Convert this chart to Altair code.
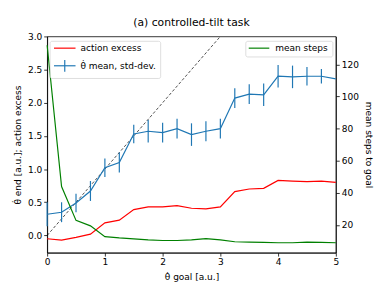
import altair as alt
import pandas as pd

goal = [0.0, 0.25, 0.5, 0.75, 1.0, 1.25, 1.5, 1.75, 2.0, 2.25, 2.5,
        2.75, 3.0, 3.25, 3.5, 3.75, 4.0, 4.25, 4.5, 4.75, 5.0]
theta_mean = [0.32, 0.35, 0.49, 0.67, 1.02, 1.10, 1.53, 1.57, 1.55, 1.61, 1.52,
              1.57, 1.61, 2.07, 2.13, 2.12, 2.40, 2.39, 2.40, 2.40, 2.36]
theta_std = [0.18, 0.15, 0.14, 0.15, 0.14, 0.15, 0.14, 0.17, 0.15, 0.15, 0.17,
             0.15, 0.15, 0.15, 0.15, 0.17, 0.17, 0.17, 0.14, 0.11, 0.0]
action_excess = [-0.05, -0.07, -0.03, 0.02, 0.19, 0.23, 0.39, 0.43, 0.43, 0.45, 0.41,
                 0.40, 0.43, 0.66, 0.70, 0.71, 0.83, 0.82, 0.81, 0.82, 0.80]
mean_steps = [131.9, 44.0, 22.9, 19.5, 12.8, 12.0, 11.4, 10.8, 10.4, 10.4, 10.8,
              11.6, 10.8, 9.6, 9.4, 9.2, 9.0, 9.0, 9.4, 9.2, 9.0]
diag_x = [0.0, 3.0]

df = pd.DataFrame({
    "goal": goal,
    "mean": theta_mean,
    "lo": [m - s for m, s in zip(theta_mean, theta_std)],
    "hi": [m + s for m, s in zip(theta_mean, theta_std)],
    "excess": action_excess,
    "steps": mean_steps,
})
diag = pd.DataFrame({"x": diag_x, "y": diag_x})

BLUE = "#1f77b4"
RED = "#ff0000"
GREEN = "#008000"
FONT = "DejaVu Sans"

xscale = alt.Scale(domain=[0, 5], nice=False, zero=False)
xaxis = alt.Axis(values=[0, 1, 2, 3, 4, 5], title="θ̇ goal [a.u.]", format="d", titlePadding=6)
ylscale = alt.Scale(domain=[-0.26, 3.0], nice=False, zero=False)
ylaxis = alt.Axis(values=[0, 0.5, 1.0, 1.5, 2.0, 2.5, 3.0], format=".1f",
                  title="θ̇ end [a.u.]; action excess", orient="left", titlePadding=5)
yrscale = alt.Scale(domain=[2.8, 137.4], nice=False, zero=False)
yraxis = alt.Axis(values=[20, 40, 60, 80, 100, 120], title="mean steps to goal",
                  orient="right", titlePadding=5)

X = alt.X("goal:Q", scale=xscale, axis=xaxis)

diag_line = alt.Chart(diag).mark_line(color="black", strokeWidth=0.7, strokeDash=[3, 2]).encode(
    x=alt.X("x:Q", scale=xscale, axis=xaxis),
    y=alt.Y("y:Q", scale=ylscale, axis=ylaxis),
)
red_line = alt.Chart(df).mark_line(color=RED, strokeWidth=1.2).encode(
    x=X, y=alt.Y("excess:Q", scale=ylscale, axis=ylaxis))
err = alt.Chart(df).mark_rule(color=BLUE, strokeWidth=1.2).encode(
    x=X, y=alt.Y("lo:Q", scale=ylscale, axis=ylaxis), y2="hi:Q")
blue_line = alt.Chart(df).mark_line(color=BLUE, strokeWidth=1.2).encode(
    x=X, y=alt.Y("mean:Q", scale=ylscale, axis=ylaxis))

left = alt.layer(diag_line, red_line, err, blue_line)

green_line = alt.Chart(df).mark_line(color=GREEN, strokeWidth=1.2).encode(
    x=X, y=alt.Y("steps:Q", scale=yrscale, axis=yraxis))

one = pd.DataFrame({"a": [0]})
lb = alt.Chart(one)
FS = 9.2
# legend 1 (plot-relative pixel coordinates)
box1 = lb.mark_rect(fill="white", opacity=0.8, stroke="#cccccc", strokeWidth=0.8, cornerRadius=2).encode(
    x=alt.value(3), x2=alt.value(116), y=alt.value(5), y2=alt.value(43))
r1 = lb.mark_rule(color=RED, strokeWidth=1.2).encode(
    x=alt.value(7), x2=alt.value(29), y=alt.value(12))
t1 = lb.mark_text(align="left", baseline="middle", fontSize=FS, font=FONT, color="black").encode(
    x=alt.value(34), y=alt.value(12), text=alt.value("action excess"))
r2 = lb.mark_rule(color=BLUE, strokeWidth=1.2).encode(
    x=alt.value(7), x2=alt.value(29), y=alt.value(30))
r2v = lb.mark_rule(color=BLUE, strokeWidth=1.2).encode(
    x=alt.value(18), y=alt.value(24), y2=alt.value(36))
t2 = lb.mark_text(align="left", baseline="middle", fontSize=FS, font=FONT, color="black").encode(
    x=alt.value(34), y=alt.value(30), text=alt.value("θ̇ mean, std-dev."))
# legend 2
box2 = lb.mark_rect(fill="white", opacity=0.8, stroke="#cccccc", strokeWidth=0.8, cornerRadius=2).encode(
    x=alt.value(203), x2=alt.value(292), y=alt.value(5), y2=alt.value(21))
r3 = lb.mark_rule(color=GREEN, strokeWidth=1.2).encode(
    x=alt.value(206), x2=alt.value(227), y=alt.value(12))
t3 = lb.mark_text(align="left", baseline="middle", fontSize=FS, font=FONT, color="black").encode(
    x=alt.value(233), y=alt.value(12), text=alt.value("mean steps"))

legends = alt.layer(box1, r1, t1, r2, r2v, t2, box2, r3, t3)

chart = alt.layer(left, green_line, legends).resolve_scale(y="independent").properties(
    width=295, height=221,
    title=alt.TitleParams("(a) controlled-tilt task", fontSize=11, font=FONT,
                          fontWeight="normal", color="black", offset=5, anchor="middle"),
    padding={"left": 40, "top": 26, "right": 39, "bottom": 31},
    autosize=alt.AutoSizeParams(type="none"),
).configure_view(stroke="black", strokeWidth=0.8).configure_axis(
    grid=False, labelFont=FONT, titleFont=FONT, labelFontSize=FS, titleFontSize=FS,
    labelColor="black", titleColor="black", tickColor="black", domainColor="black",
    tickSize=3.5, tickWidth=0.8, domainWidth=0.8, labelPadding=2,
    titleFontWeight="normal", labelFlush=False, labelOverlap=False,
)

chart.save("out.html", embed_options={"renderer": "svg", "actions": False})
